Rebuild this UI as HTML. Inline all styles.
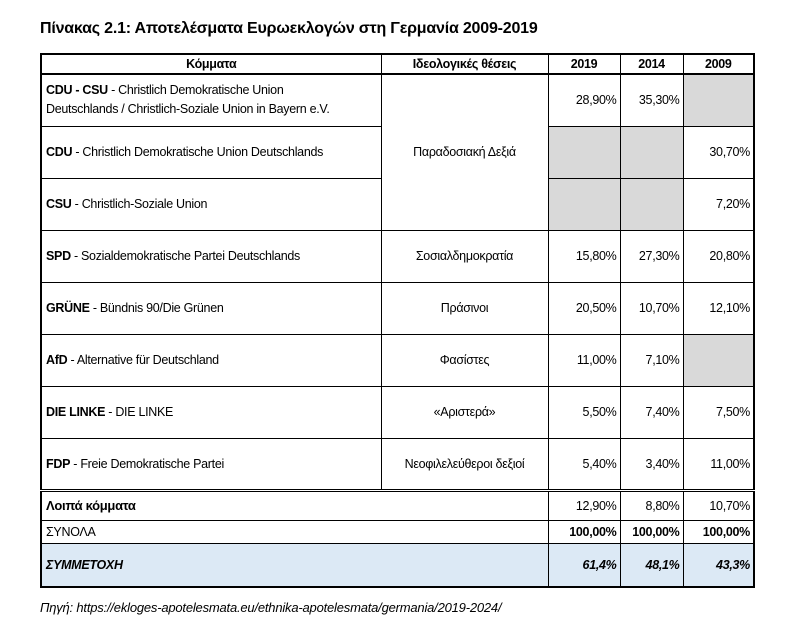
<!DOCTYPE html>
<html><head><meta charset="utf-8"><style>
body{margin:0;width:800px;height:638px;background:#fff;font-family:"Liberation Sans","DejaVu Sans",sans-serif;color:#000;position:relative;overflow:hidden}
.t{position:absolute;left:40px;top:20px;font-size:16px;font-weight:bold;letter-spacing:-0.2px}
table{position:absolute;left:40px;top:53px;border-collapse:collapse;font-size:12.5px;letter-spacing:-0.3px}
td,th{border:1px solid #000;padding:0 4px;}
th{height:18px;font-weight:bold;text-align:center}
.c{text-align:center}.r{text-align:right;padding-right:3px}
.g{background:#d9d9d9}
.b{font-weight:bold}
.blue td{background:#dce9f5;font-weight:bold;font-style:italic}
.f{position:absolute;left:40px;top:600px;font-size:13px;font-style:italic;letter-spacing:-0.2px}
</style></head><body>
<div class="t">Πίνακας 2.1: Αποτελέσματα Ευρωεκλογών στη Γερμανία 2009-2019</div>
<table style="border:2px solid #000">
<colgroup><col style="width:340px"><col style="width:167px"><col style="width:72px"><col style="width:63px"><col style="width:71px"></colgroup>
<tr style="border-bottom:2px solid #000"><th>Κόμματα</th><th>Ιδεολογικές θέσεις</th><th>2019</th><th>2014</th><th>2009</th></tr>
<tr style="height:52px"><td style="line-height:19px"><b>CDU - CSU</b> - Christlich Demokratische Union<br>Deutschlands / Christlich-Soziale Union in Bayern e.V.</td><td class="c" rowspan="3">Παραδοσιακή Δεξιά</td><td class="r">28,90%</td><td class="r">35,30%</td><td class="g"></td></tr>
<tr style="height:52px"><td><b>CDU</b> - Christlich Demokratische Union Deutschlands</td><td class="g"></td><td class="g"></td><td class="r">30,70%</td></tr>
<tr style="height:52px"><td><b>CSU</b> - Christlich-Soziale Union</td><td class="g"></td><td class="g"></td><td class="r">7,20%</td></tr>
<tr style="height:52px"><td><b>SPD</b> - Sozialdemokratische Partei Deutschlands</td><td class="c">Σοσιαλδημοκρατία</td><td class="r">15,80%</td><td class="r">27,30%</td><td class="r">20,80%</td></tr>
<tr style="height:52px"><td><b>GRÜNE</b> - Bündnis 90/Die Grünen</td><td class="c">Πράσινοι</td><td class="r">20,50%</td><td class="r">10,70%</td><td class="r">12,10%</td></tr>
<tr style="height:52px"><td><b>AfD</b> - Alternative für Deutschland</td><td class="c">Φασίστες</td><td class="r">11,00%</td><td class="r">7,10%</td><td class="g"></td></tr>
<tr style="height:52px"><td><b>DIE LINKE</b> - DIE LINKE</td><td class="c">«Αριστερά»</td><td class="r">5,50%</td><td class="r">7,40%</td><td class="r">7,50%</td></tr>
<tr style="height:52px"><td><b>FDP</b> - Freie Demokratische Partei</td><td class="c">Νεοφιλελεύθεροι δεξιοί</td><td class="r">5,40%</td><td class="r">3,40%</td><td class="r">11,00%</td></tr>
<tr style="height:30px;border-top:3px double #000"><td class="b" colspan="2" style="font-size:13px">Λοιπά κόμματα</td><td class="r">12,90%</td><td class="r">8,80%</td><td class="r">10,70%</td></tr>
<tr style="height:23px"><td colspan="2">ΣΥΝΟΛΑ</td><td class="r b">100,00%</td><td class="r b">100,00%</td><td class="r b">100,00%</td></tr>
<tr class="blue" style="height:44px"><td colspan="2">ΣΥΜΜΕΤΟΧΗ</td><td class="r">61,4%</td><td class="r">48,1%</td><td class="r">43,3%</td></tr>
</table>
<div class="f">Πηγή: https://ekloges-apotelesmata.eu/ethnika-apotelesmata/germania/2019-2024/</div>
</body></html>
